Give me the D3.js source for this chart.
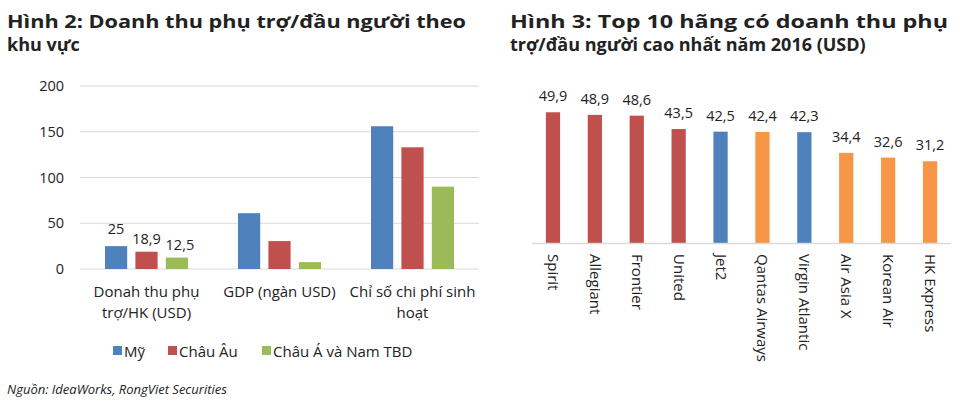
<!DOCTYPE html>
<html><head><meta charset="utf-8">
<script src="https://cdn.jsdelivr.net/npm/d3@7"></script>
<style>body{margin:0;background:#fff}text{font-family:"Open Sans",sans-serif;fill:#222}</style>
</head><body><svg id="c" width="960" height="409"></svg>
<script>
// Hình 2
const regionCats = [["Donah thu phụ", "trợ/HK (USD)"], ["GDP (ngàn USD)"], ["Chỉ số chi phí sinh", "hoạt"]];
const regionSeries = ["Mỹ", "Châu Âu", "Châu Á và Nam TBD"];
const regionColors = ["#4f81bd", "#c0504d", "#9bbb59"];
const regionValues = [[25, 18.9, 12.5], [61, 30.5, 7.5], [156, 133, 90]];
const regionLabels = [["25", "18,9", "12,5"], null, null];
const yTicks = [0, 50, 100, 150, 200];
// Hình 3
const airlines = ["Spirit", "Allegiant", "Frontier", "United", "Jet2", "Qantas Airways", "Virgin Atlantic", "Air Asia X", "Korean Air", "HK Express"];
const airlineValues = [49.9, 48.9, 48.6, 43.5, 42.5, 42.4, 42.3, 34.4, 32.6, 31.2];
const airlineColors = ["#c0504d", "#c0504d", "#c0504d", "#c0504d", "#4f81bd", "#f79646", "#4f81bd", "#f79646", "#f79646", "#f79646"];

const svg = d3.select("#c");
const fmt = v => String(v).replace(".", ",");

function title(x, w, lines) {
  lines.forEach((t, i) => {
    const el = svg.append("text").attr("x", x).attr("y", 28 + i * 23)
      .style("font-weight", "bold").style("font-size", "18px").text(t);
    if (i === 0) el.attr("textLength", w).attr("lengthAdjust", "spacingAndGlyphs");
  });
}
title(7, 459, ["Hình 2: Doanh thu phụ trợ/đầu người theo", "khu vực"]);
title(510, 438, ["Hình 3: Top 10 hãng có doanh thu phụ", "trợ/đầu người cao nhất năm 2016 (USD)"]);

// left chart
const y = d3.scaleLinear().domain([0, 200]).range([269, 86]);
const x0 = d3.scaleBand().domain(d3.range(3)).range([80, 479]);
const x1 = d3.scaleBand().domain(d3.range(3)).range([0, 83]).paddingInner(0.27);
const g = svg.append("g");
g.selectAll(".grid").data(yTicks).join("line")
  .attr("x1", 80).attr("x2", 479).attr("y1", d => y(d)).attr("y2", d => y(d))
  .attr("stroke", "#d9d9d9").attr("stroke-width", 1.2);
g.selectAll(".yt").data(yTicks).join("text")
  .attr("x", 64).attr("y", d => y(d) + 5).attr("text-anchor", "end")
  .style("font-size", "14.5px").text(d => d);
regionValues.forEach((vals, ci) => {
  const gx = x0(ci) + (x0.bandwidth() - 83) / 2;
  vals.forEach((v, si) => {
    g.append("rect").attr("x", gx + x1(si)).attr("width", x1.bandwidth())
      .attr("y", y(v)).attr("height", y(0) - y(v)).attr("fill", regionColors[si]);
    if (regionLabels[ci]) {
      g.append("text").attr("x", gx + x1(si) + x1.bandwidth() / 2 + (si === 2 ? 3 : 0))
        .attr("y", y(v) - 8 - (si === 0 ? 4 : 0)).attr("text-anchor", "middle")
        .style("font-size", "14.5px").text(regionLabels[ci][si]);
    }
  });
  regionCats[ci].forEach((t, li) => {
    g.append("text").attr("x", x0(ci) + x0.bandwidth() / 2).attr("y", 297 + li * 21)
      .attr("text-anchor", "middle").style("font-size", "15px").text(t);
  });
});
const legX = [113, 168, 262];
regionSeries.forEach((s, i) => {
  g.append("rect").attr("x", legX[i]).attr("y", 346).attr("width", 9).attr("height", 9).attr("fill", regionColors[i]);
  g.append("text").attr("x", legX[i] + 11).attr("y", 357).style("font-size", "15px").text(s);
});
svg.append("text").attr("x", 7).attr("y", 394).style("font-style", "italic").style("font-size", "13px")
  .text("Nguồn: IdeaWorks, RongViet Securities");

// right chart
const xr = d3.scaleBand().domain(airlines).range([532, 951]).paddingInner(0.66).paddingOuter(0.33);
const yr = d3.scaleLinear().domain([0, 50]).range([243, 112]);
const r = svg.append("g");
r.selectAll("rect").data(airlines).join("rect")
  .attr("x", d => xr(d)).attr("width", xr.bandwidth())
  .attr("y", (d, i) => yr(airlineValues[i])).attr("height", (d, i) => yr(0) - yr(airlineValues[i]))
  .attr("fill", (d, i) => airlineColors[i]);
r.append("line").attr("x1", 532).attr("x2", 951).attr("y1", 243.5).attr("y2", 243.5)
  .attr("stroke", "#d9d9d9").attr("stroke-width", 1.5);
r.selectAll(".vl").data(airlines).join("text")
  .attr("x", d => xr(d) + xr.bandwidth() / 2).attr("y", (d, i) => yr(airlineValues[i]) - 11)
  .attr("text-anchor", "middle").style("font-size", "14.5px").text((d, i) => fmt(airlineValues[i]));
r.selectAll(".cl").data(airlines).join("text")
  .attr("transform", d => `translate(${xr(d) + xr.bandwidth() / 2 - 5},254) rotate(90)`)
  .style("font-size", "15px").text(d => d);
</script></body></html>
